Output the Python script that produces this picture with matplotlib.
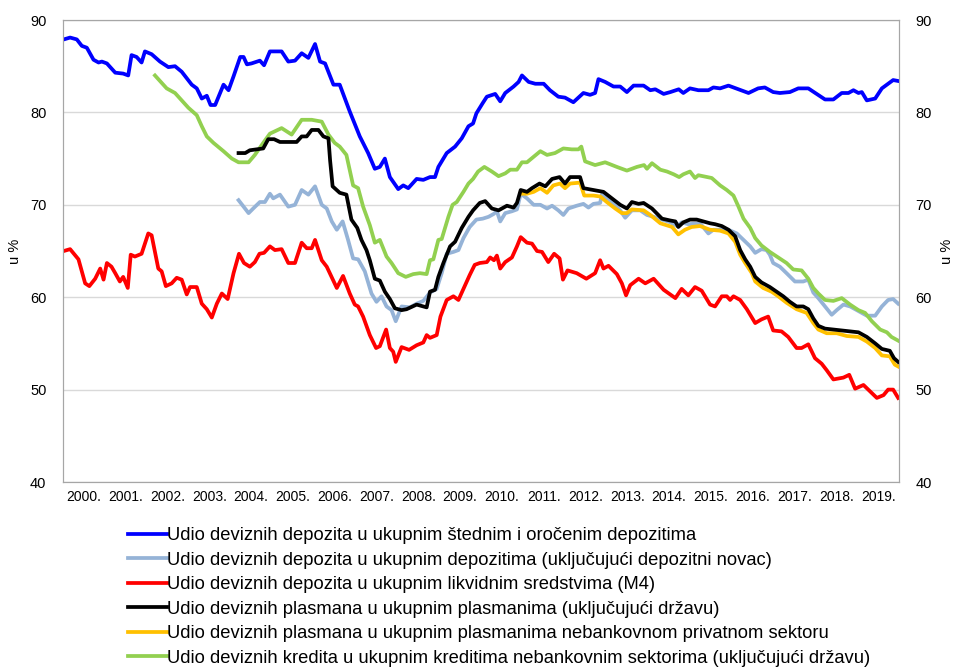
import numpy as np
import matplotlib.pyplot as plt

plt.rcParams['font.family'] = ['Liberation Sans', 'DejaVu Sans']

# Udio deviznih depozita u ukupnim stednim i orocenim depozitima
blue_x = [2000.02, 2000.17, 2000.33, 2000.45, 2000.57, 2000.73, 2000.85, 2000.93, 2001.05, 2001.25,
          2001.44, 2001.56, 2001.64, 2001.76, 2001.88, 2001.96, 2002.12, 2002.32, 2002.52, 2002.68,
          2002.84, 2003.08, 2003.2, 2003.32, 2003.44, 2003.53, 2003.64, 2003.84, 2003.96, 2004.08,
          2004.24, 2004.32, 2004.4, 2004.51, 2004.71, 2004.81, 2004.95, 2005.23, 2005.39, 2005.55,
          2005.71, 2005.87, 2006.03, 2006.15, 2006.27, 2006.47, 2006.62, 2006.86, 2007.1, 2007.3,
          2007.46, 2007.58, 2007.7, 2007.82, 2008.02, 2008.14, 2008.26, 2008.46, 2008.62, 2008.78,
          2008.9, 2008.98, 2009.18, 2009.38, 2009.54, 2009.7, 2009.81, 2009.89, 2010.04, 2010.14,
          2010.34, 2010.46, 2010.58, 2010.78, 2010.9, 2010.98, 2011.14, 2011.3, 2011.5, 2011.65,
          2011.85, 2012.01, 2012.21, 2012.45, 2012.61, 2012.73, 2012.81, 2012.97, 2013.17, 2013.33,
          2013.49, 2013.65, 2013.89, 2014.05, 2014.17, 2014.37, 2014.53, 2014.73, 2014.84, 2015.0,
          2015.2, 2015.44, 2015.56, 2015.72, 2015.92, 2016.16, 2016.4, 2016.63, 2016.79, 2016.99,
          2017.15, 2017.39, 2017.59, 2017.83, 2018.03, 2018.23, 2018.43, 2018.63, 2018.79, 2018.91,
          2019.03, 2019.11, 2019.23, 2019.43, 2019.59, 2019.74, 2019.86, 2019.98]
blue_y = [87.9, 88.1, 87.9, 87.2, 87.0, 85.7, 85.4, 85.5, 85.3, 84.3,
          84.2, 84.0, 86.2, 86.0, 85.4, 86.6, 86.3, 85.5, 84.9, 85.0,
          84.4, 83.0, 82.6, 81.5, 81.8, 80.8, 80.8, 83.0, 82.4, 83.9,
          86.0, 86.0, 85.2, 85.3, 85.6, 85.1, 86.6, 86.6, 85.5, 85.6,
          86.4, 85.9, 87.4, 85.5, 85.3, 83.0, 83.0, 80.1, 77.4, 75.6,
          73.9, 74.1, 75.0, 73.0, 71.7, 72.1, 71.8, 72.8, 72.7, 73.0,
          73.0, 74.1, 75.6, 76.3, 77.2, 78.5, 78.8, 79.9, 81.0, 81.7,
          82.0, 81.2, 82.1, 82.8, 83.3, 84.0, 83.3, 83.1, 83.1, 82.4,
          81.7, 81.6, 81.1, 82.1, 81.9, 82.1, 83.6, 83.3, 82.8, 82.8,
          82.2, 82.9, 82.9, 82.4, 82.5, 82.0, 82.2, 82.5, 82.1, 82.6,
          82.4, 82.4, 82.7, 82.6, 82.9, 82.5, 82.1, 82.6, 82.7, 82.2,
          82.1, 82.2, 82.6, 82.6, 82.0, 81.4, 81.4, 82.1, 82.1, 82.4,
          82.1, 82.2, 81.3, 81.5, 82.6, 83.1, 83.5, 83.4]

# Udio deviznih depozita u ukupnim depozitima (ukljucujuci depozitni novac)
lblue_x = [2004.2, 2004.32, 2004.44, 2004.55, 2004.71, 2004.83, 2004.95, 2005.03, 2005.19, 2005.39,
           2005.55, 2005.71, 2005.87, 2006.03, 2006.19, 2006.31, 2006.43, 2006.55, 2006.69, 2006.82,
           2006.94, 2007.06, 2007.22, 2007.38, 2007.5, 2007.62, 2007.74, 2007.86, 2007.96, 2008.1,
           2008.3, 2008.46, 2008.62, 2008.78, 2008.94, 2009.06, 2009.18, 2009.34, 2009.46, 2009.58,
           2009.73, 2009.89, 2010.04, 2010.18, 2010.3, 2010.38, 2010.46, 2010.58, 2010.74, 2010.86,
           2010.95, 2011.1, 2011.26, 2011.42, 2011.58, 2011.7, 2011.85, 2011.97, 2012.09, 2012.29,
           2012.45, 2012.57, 2012.69, 2012.85, 2012.89, 2013.09, 2013.33, 2013.45, 2013.61, 2013.81,
           2013.97, 2014.13, 2014.33, 2014.53, 2014.69, 2014.8, 2014.96, 2015.24, 2015.44, 2015.56,
           2015.72, 2015.92, 2016.12, 2016.28, 2016.44, 2016.56, 2016.71, 2016.83, 2016.91, 2016.99,
           2017.15, 2017.31, 2017.51, 2017.71, 2017.83, 2017.95, 2018.07, 2018.23, 2018.39, 2018.51,
           2018.67, 2018.83, 2019.03, 2019.23, 2019.43, 2019.59, 2019.74, 2019.86, 2019.98]
lblue_y = [70.5, 69.8, 69.1, 69.6, 70.3, 70.3, 71.2, 70.7, 71.1, 69.8,
           70.0, 71.6, 71.1, 72.0, 70.0, 69.6, 68.2, 67.3, 68.2, 66.2,
           64.2, 64.1, 62.8, 60.4, 59.5, 60.1, 59.0, 58.6, 57.4, 59.0,
           58.9, 59.3, 59.6, 60.5, 60.9, 62.6, 64.7, 64.9, 65.1, 66.4,
           67.6, 68.4, 68.5, 68.7, 69.0, 69.3, 68.2, 69.1, 69.3, 69.5,
           71.2, 70.7, 70.0, 70.0, 69.6, 69.9, 69.4, 68.9, 69.6, 69.9,
           70.1, 69.7, 70.1, 70.2, 71.1, 70.5, 69.4, 68.6, 69.4, 69.4,
           68.9, 68.7, 68.4, 68.1, 67.7, 68.1, 67.9, 68.0, 66.9, 67.3,
           67.3, 67.3, 66.9, 66.2, 65.5, 64.8, 65.2, 65.1, 64.6, 63.7,
           63.3, 62.6, 61.7, 61.7, 61.9, 60.5, 59.9, 59.0, 58.1, 58.6,
           59.2, 59.0, 58.5, 58.0, 58.0, 59.0, 59.7, 59.8, 59.3]

# Udio deviznih depozita u ukupnim likvidnim sredstvima (M4)
red_x = [2000.02, 2000.17, 2000.37, 2000.53, 2000.63, 2000.77, 2000.89, 2000.97, 2001.05, 2001.16,
         2001.25, 2001.36, 2001.44, 2001.55, 2001.62, 2001.72, 2001.88, 2002.04, 2002.12, 2002.28,
         2002.36, 2002.46, 2002.6, 2002.72, 2002.84, 2002.96, 2003.04, 2003.2, 2003.32, 2003.44,
         2003.56, 2003.68, 2003.8, 2003.94, 2004.08, 2004.21, 2004.33, 2004.47, 2004.59, 2004.7,
         2004.81, 2004.95, 2005.07, 2005.23, 2005.39, 2005.55, 2005.71, 2005.83, 2005.95, 2006.03,
         2006.19, 2006.31, 2006.55, 2006.7, 2006.86, 2006.98, 2007.06, 2007.18, 2007.34, 2007.49,
         2007.58, 2007.73, 2007.82, 2007.9, 2007.96, 2008.1, 2008.28, 2008.46, 2008.62, 2008.7,
         2008.78, 2008.94, 2009.03, 2009.18, 2009.34, 2009.46, 2009.62, 2009.73, 2009.85, 2009.97,
         2010.14, 2010.22, 2010.31, 2010.38, 2010.46, 2010.58, 2010.74, 2010.86, 2010.95, 2011.1,
         2011.22, 2011.34, 2011.46, 2011.61, 2011.75, 2011.88, 2011.96, 2012.07, 2012.29, 2012.52,
         2012.73, 2012.85, 2012.93, 2013.05, 2013.25, 2013.37, 2013.47, 2013.57, 2013.77, 2013.93,
         2014.13, 2014.37, 2014.65, 2014.8, 2014.96, 2015.12, 2015.28, 2015.48, 2015.6, 2015.76,
         2015.88, 2015.96, 2016.04, 2016.2, 2016.36, 2016.56, 2016.71, 2016.87, 2016.99, 2017.19,
         2017.35, 2017.55, 2017.67, 2017.83, 2017.99, 2018.15, 2018.27, 2018.43, 2018.67, 2018.81,
         2018.95, 2019.15, 2019.31, 2019.47, 2019.63, 2019.74, 2019.86, 2019.98]
red_y = [65.0, 65.2, 64.1, 61.5, 61.2, 62.0, 63.1, 61.9, 63.7, 63.3,
         62.6, 61.7, 62.2, 61.0, 64.6, 64.4, 64.7, 66.9, 66.7, 63.1,
         62.8, 61.2, 61.5, 62.1, 61.9, 60.3, 61.1, 61.1, 59.3, 58.7,
         57.8, 59.3, 60.4, 59.8, 62.6, 64.7, 63.7, 63.3, 63.8, 64.7,
         64.8, 65.5, 65.1, 65.2, 63.7, 63.7, 65.9, 65.3, 65.3, 66.2,
         64.0, 63.3, 61.0, 62.3, 60.4, 59.2, 59.0, 57.9, 55.9, 54.5,
         54.7, 56.5, 54.5, 54.1, 53.0, 54.6, 54.3, 54.8, 55.1, 55.9,
         55.6, 55.9, 57.9, 59.7, 60.1, 59.7, 61.3, 62.4, 63.5, 63.7,
         63.8, 64.3, 64.0, 64.5, 63.1, 63.8, 64.3, 65.5, 66.5, 65.9,
         65.8, 65.0, 64.9, 63.8, 64.7, 64.2, 61.9, 62.9, 62.6, 62.0,
         62.6, 64.0, 63.1, 63.4, 62.5, 61.5, 60.2, 61.3, 62.0, 61.5,
         62.0, 60.8, 59.9, 60.9, 60.2, 61.1, 60.7, 59.2, 59.0, 60.1,
         60.1, 59.7, 60.1, 59.7, 58.7, 57.2, 57.6, 57.9, 56.4, 56.3,
         55.7, 54.5, 54.5, 54.9, 53.4, 52.8, 52.1, 51.1, 51.3, 51.6,
         50.1, 50.5, 49.8, 49.1, 49.4, 50.0, 50.0, 49.1]

# Udio deviznih plasmana u ukupnim plasmanima (ukljucujuci drzavu)
black_x = [2004.2, 2004.36, 2004.47, 2004.63, 2004.79, 2004.91, 2005.05, 2005.19, 2005.59, 2005.71,
           2005.83, 2005.95, 2006.11, 2006.23, 2006.35, 2006.39, 2006.45, 2006.62, 2006.78, 2006.9,
           2007.04, 2007.14, 2007.26, 2007.34, 2007.46, 2007.58, 2007.7, 2007.82, 2007.94, 2008.1,
           2008.22, 2008.46, 2008.7, 2008.78, 2008.9, 2008.98, 2009.1, 2009.26, 2009.38, 2009.54,
           2009.7, 2009.81, 2009.97, 2010.1, 2010.26, 2010.42, 2010.62, 2010.78, 2010.86, 2010.95,
           2011.1, 2011.22, 2011.4, 2011.54, 2011.7, 2011.88, 2012.01, 2012.13, 2012.37, 2012.45,
           2012.69, 2012.93, 2013.13, 2013.33, 2013.49, 2013.61, 2013.77, 2013.89, 2014.09, 2014.33,
           2014.53, 2014.65, 2014.72, 2014.84, 2015.0, 2015.16, 2015.32, 2015.48, 2015.6, 2015.76,
           2015.92, 2016.08, 2016.2, 2016.32, 2016.44, 2016.56, 2016.71, 2016.91, 2017.07, 2017.23,
           2017.39, 2017.55, 2017.71, 2017.83, 2017.95, 2018.07, 2018.23, 2018.43, 2018.63, 2018.83,
           2019.03, 2019.23, 2019.43, 2019.59, 2019.78, 2019.88, 2019.98]
black_y = [75.6, 75.6, 75.9, 76.0, 76.1, 77.1, 77.1, 76.8, 76.8, 77.4,
           77.4, 78.1, 78.1, 77.4, 77.2, 74.8, 72.0, 71.3, 71.1, 68.4,
           67.5, 66.2, 65.1, 64.0, 62.0, 61.8, 60.6, 59.8, 58.8, 58.6,
           58.7, 59.2, 58.9, 60.6, 60.8, 62.2, 63.7, 65.5, 66.0, 67.5,
           68.7, 69.4, 70.2, 70.4, 69.6, 69.4, 69.9, 69.7, 70.2, 71.6,
           71.4, 71.8, 72.3, 72.0, 72.8, 73.0, 72.3, 73.0, 73.0, 71.8,
           71.6, 71.4, 70.7, 70.0, 69.6, 70.3, 70.1, 70.2, 69.6, 68.5,
           68.3, 68.2, 67.6, 68.1, 68.4, 68.4, 68.2, 68.0, 67.9, 67.7,
           67.3, 66.6, 65.1, 64.1, 63.3, 62.2, 61.6, 61.1, 60.6, 60.1,
           59.5, 59.0, 59.0, 58.7, 57.7, 56.9, 56.6, 56.5, 56.4, 56.3,
           56.2, 55.7, 55.0, 54.4, 54.2, 53.4, 53.0]

# Udio deviznih plasmana u ukupnim plasmanima nebankovnom privatnom sektoru
yellow_x = [2010.94, 2011.1, 2011.26, 2011.42, 2011.58, 2011.73, 2011.89, 2012.01, 2012.13, 2012.37,
            2012.47, 2012.69, 2012.85, 2013.01, 2013.21, 2013.37, 2013.49, 2013.61, 2013.89, 2014.05,
            2014.29, 2014.57, 2014.72, 2014.88, 2015.04, 2015.24, 2015.48, 2015.72, 2015.92, 2016.08,
            2016.2, 2016.32, 2016.48, 2016.56, 2016.75, 2016.95, 2017.11, 2017.31, 2017.55, 2017.79,
            2017.95, 2018.07, 2018.27, 2018.51, 2018.75, 2019.03, 2019.23, 2019.43, 2019.59, 2019.78,
            2019.9, 2019.98]
yellow_y = [71.2, 71.2, 71.4, 71.8, 71.3, 72.1, 72.3, 71.8, 72.3, 72.4,
            71.0, 71.0, 70.9, 70.3, 69.6, 69.1, 69.1, 69.5, 69.4, 68.9,
            68.0, 67.6, 66.8, 67.3, 67.6, 67.7, 67.3, 67.2, 66.9, 66.0,
            64.6, 63.7, 62.6, 61.7, 61.0, 60.6, 60.1, 59.4, 58.7, 58.3,
            57.2, 56.5, 56.1, 56.1, 55.8, 55.7, 55.2, 54.5, 53.7, 53.6,
            52.7, 52.5]

# Udio deviznih kredita u ukupnim kreditima nebankovnim sektorima (ukljucujuci drzavu)
green_x = [2002.2, 2002.36, 2002.48, 2002.68, 2002.84, 2003.0, 2003.2, 2003.32, 2003.44, 2003.6,
           2003.84, 2004.04, 2004.2, 2004.44, 2004.59, 2004.79, 2004.95, 2005.23, 2005.47, 2005.71,
           2005.95, 2006.19, 2006.35, 2006.5, 2006.62, 2006.78, 2006.94, 2007.06, 2007.18, 2007.34,
           2007.46, 2007.58, 2007.74, 2007.86, 2008.02, 2008.2, 2008.38, 2008.54, 2008.7, 2008.78,
           2008.86, 2008.98, 2009.06, 2009.22, 2009.32, 2009.42, 2009.58, 2009.7, 2009.81, 2009.93,
           2010.08, 2010.26, 2010.42, 2010.58, 2010.7, 2010.86, 2010.98, 2011.1, 2011.26, 2011.42,
           2011.58, 2011.77, 2011.97, 2012.17, 2012.33, 2012.4, 2012.49, 2012.73, 2012.97, 2013.25,
           2013.49, 2013.73, 2013.9, 2013.97, 2014.09, 2014.29, 2014.45, 2014.61, 2014.74, 2014.84,
           2015.0, 2015.12, 2015.2, 2015.52, 2015.72, 2015.88, 2016.04, 2016.16, 2016.28, 2016.44,
           2016.56, 2016.71, 2016.91, 2017.11, 2017.31, 2017.47, 2017.67, 2017.83, 2017.95, 2018.07,
           2018.23, 2018.43, 2018.63, 2018.83, 2019.03, 2019.19, 2019.35, 2019.55, 2019.71, 2019.82,
           2019.98]
green_y = [84.0, 83.2, 82.6, 82.1, 81.3, 80.5, 79.7, 78.5, 77.4, 76.7,
           75.8, 75.0, 74.6, 74.6, 75.4, 76.7, 77.7, 78.3, 77.6, 79.2,
           79.2, 79.0, 77.6, 76.7, 76.3, 75.4, 72.1, 71.8, 69.8, 67.8,
           65.9, 66.2, 64.4, 63.7, 62.6, 62.2, 62.5, 62.6, 62.5, 64.0,
           64.1, 66.2, 66.3, 68.7, 70.0, 70.3, 71.4, 72.3, 72.8, 73.6,
           74.1, 73.6, 73.1, 73.4, 73.8, 73.8, 74.6, 74.6, 75.2, 75.8,
           75.4, 75.6, 76.1, 76.0, 76.0, 76.3, 74.7, 74.3, 74.6, 74.1,
           73.7, 74.1, 74.3, 73.9, 74.5, 73.8, 73.6, 73.3, 73.0, 73.3,
           73.6, 72.9, 73.2, 72.9, 72.1, 71.6, 71.0, 69.8, 68.5, 67.5,
           66.4, 65.6, 64.9, 64.3, 63.7, 63.0, 62.9, 62.0, 61.0, 60.4,
           59.7, 59.6, 59.9, 59.2, 58.6, 58.3, 57.4, 56.5, 56.2, 55.7,
           55.3]

years = list(range(2000, 2020))

labels = [
    "Udio deviznih depozita u ukupnim štednim i oročenim depozitima",
    "Udio deviznih depozita u ukupnim depozitima (uključujući depozitni novac)",
    "Udio deviznih depozita u ukupnim likvidnim sredstvima (M4)",
    "Udio deviznih plasmana u ukupnim plasmanima (uključujući državu)",
    "Udio deviznih plasmana u ukupnim plasmanima nebankovnom privatnom sektoru",
    "Udio deviznih kredita u ukupnim kreditima nebankovnim sektorima (uključujući državu)",
]
series = [(blue_x, blue_y), (lblue_x, lblue_y), (red_x, red_y),
          (black_x, black_y), (yellow_x, yellow_y), (green_x, green_y)]
colors = ['#0000FF', '#95B3D7', '#FF0000', '#000000', '#FFC000', '#92D050']
zorders = [3, 2, 3, 6, 5, 4]

fig = plt.figure(figsize=(9.55, 6.69), dpi=100)
ax = fig.add_axes([63 / 955, 1 - 482 / 669, 836 / 955, 462 / 669])

for (x, y), c, lab, z in zip(series, colors, labels, zorders):
    ax.plot(x, y, color=c, lw=2.7, label=lab, zorder=z, solid_joinstyle='round')

ax.set_xlim(2000, 2020)
ax.set_ylim(40, 90)
ax.set_yticks([40, 50, 60, 70, 80, 90])
ax.yaxis.grid(True, color='#D9D9D9', lw=1)
ax.set_axisbelow(True)
ax.set_xticks([y + 0.5 for y in years])
ax.set_xticklabels([f"{y}." for y in years], fontsize=10)
ax.tick_params(axis='x', length=0, pad=6)
ax.tick_params(axis='y', length=0, labelsize=10.5, pad=12)
for s in ax.spines.values():
    s.set_color('#A6A6A6')
ax.set_ylabel("u %", fontsize=10.5, labelpad=6)

ax2 = ax.twinx()
ax2.set_ylim(40, 90)
ax2.set_yticks([40, 50, 60, 70, 80, 90])
ax2.tick_params(axis='y', length=0, labelsize=10.5, pad=12)
for s in ax2.spines.values():
    s.set_color('#A6A6A6')
ax2.set_ylabel("u %", fontsize=10.5, labelpad=6)

fig.legend(loc='upper left', bbox_to_anchor=(128 / 955, 1 - 527 / 669), frameon=False,
           fontsize=13.2, handlelength=2.1, handletextpad=0.05, labelspacing=0.41,
           borderaxespad=0, borderpad=0)

fig.savefig('out.png', dpi=100)
